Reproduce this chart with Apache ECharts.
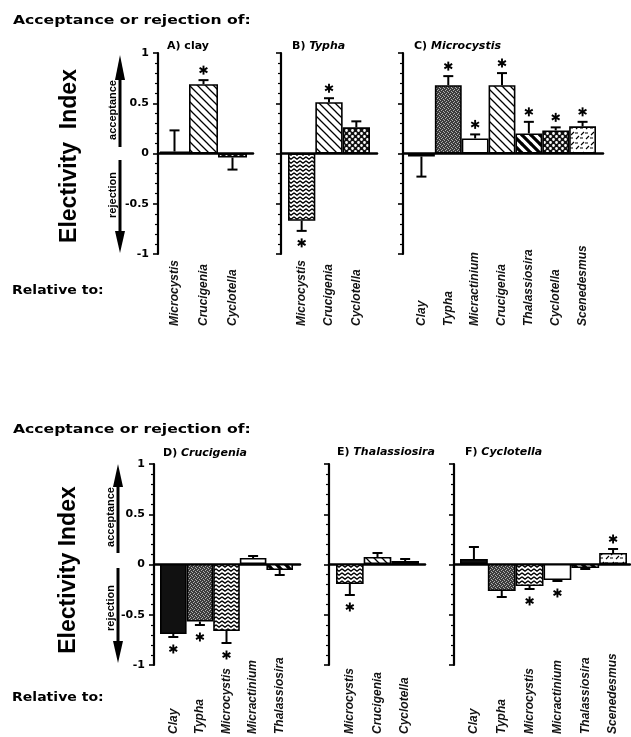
<!DOCTYPE html>
<html><head><meta charset="utf-8">
<script src="https://cdn.jsdelivr.net/npm/echarts@6/dist/echarts.min.js"></script>
<style>html,body{margin:0;padding:0;background:#fff}#c{width:631px;height:737px}</style>
</head><body><div id="c"></div>
<script>
// ---------- data ----------
const catsA = ['Microcystis','Crucigenia','Cyclotella'];
const valsA = [0.02, 0.69, -0.04];
const errA  = [0.23, 0.73, -0.16];
const starA = [0, 1, 0];

const catsB = ['Microcystis','Crucigenia','Cyclotella'];
const valsB = [-0.67, 0.51, 0.26];
const errB  = [-0.77, 0.55, 0.32];
const starB = [1, 1, 0];

const catsC = ['Clay','Typha','Micractinium','Crucigenia','Thalassiosira','Cyclotella','Scenedesmus'];
const valsC = [-0.03, 0.68, 0.15, 0.68, 0.20, 0.23, 0.27];
const errC  = [-0.23, 0.77, 0.19, 0.80, 0.315, 0.26, 0.315];
const starC = [0, 1, 1, 1, 1, 1, 1];

const catsD = ['Clay','Typha','Microcystis','Micractinium','Thalassiosira'];
const valsD = [-0.70, -0.575, -0.67, 0.06, -0.06];
const errD  = [-0.73, -0.61, -0.79, 0.08, -0.11];
const starD = [1, 1, 1, 0, 0];

const catsE = ['Microcystis','Crucigenia','Cyclotella'];
const valsE = [-0.20, 0.07, 0.03];
const errE  = [-0.31, 0.11, 0.05];
const starE = [1, 0, 0];

const catsF = ['Clay','Typha','Microcystis','Micractinium','Thalassiosira','Scenedesmus'];
const valsF = [0.05, -0.27, -0.22, -0.16, -0.04, 0.11];
const errF  = [0.17, -0.33, -0.25, -0.17, -0.05, 0.15];
const starF = [0, 0, 1, 1, 0, 1];

const yMin = -1, yMax = 1, yStep = 0.5;

// ---------- styles ----------
function mk(w, h, draw) {
  const c = document.createElement('canvas'); c.width = w; c.height = h;
  const g = c.getContext('2d'); draw(g, w, h);
  return { image: c, repeat: 'repeat' };
}
const PAT = {
  Clay: '#111',
  Typha: mk(4, 4, g => { g.fillStyle = '#3c3c3c'; g.fillRect(0,0,4,4); g.fillStyle = '#b0b0b0';
    [[0,0],[2,1],[1,2],[3,3]].forEach(p => g.fillRect(p[0], p[1], 1, 1)); }),
  Microcystis: mk(6, 4, g => { g.fillStyle = '#fff'; g.fillRect(0,0,6,4); g.strokeStyle = '#000'; g.lineWidth = 1.3;
    g.beginPath(); g.moveTo(0,0.8); g.lineTo(3,3.2); g.lineTo(6,0.8); g.stroke(); }),
  Crucigenia: mk(8, 8, g => { g.fillStyle = '#fff'; g.fillRect(0,0,8,8); g.strokeStyle = '#000'; g.lineWidth = 1.3;
    g.beginPath(); g.moveTo(-1,-1); g.lineTo(9,9); g.moveTo(-1,7); g.lineTo(1,9); g.moveTo(7,-1); g.lineTo(9,1); g.stroke(); }),
  Cyclotella: mk(6, 6, g => { g.fillStyle = '#111'; g.fillRect(0,0,6,6); g.fillStyle = '#fff';
    g.beginPath(); g.arc(1.5,1.5,1.4,0,Math.PI*2); g.arc(4.5,4.5,1.4,0,Math.PI*2); g.fill(); }),
  Micractinium: '#fff',
  Thalassiosira: mk(9, 9, g => { g.fillStyle = '#fff'; g.fillRect(0,0,9,9); g.strokeStyle = '#000'; g.lineWidth = 3.2;
    g.beginPath(); g.moveTo(-1,-1); g.lineTo(10,10); g.moveTo(-1,8); g.lineTo(1,10); g.moveTo(8,-1); g.lineTo(10,1); g.stroke(); }),
  Scenedesmus: mk(10, 10, g => { g.fillStyle = '#fff'; g.fillRect(0,0,10,10); g.strokeStyle = '#000'; g.lineWidth = 1.1;
    g.beginPath(); g.moveTo(1,5); g.lineTo(4,2); g.moveTo(6,9); g.lineTo(9,6); g.moveTo(5,3); g.lineTo(8,3); g.moveTo(0,8); g.lineTo(3,8); g.stroke(); })
};

// panel layout: frame (axis line .. zero-line end), bars region, row
const panels = [
  { cats: catsA, vals: valsA, err: errA, star: starA, fL: 158, fR: 253, bL: 160, bR: 247, top: 53, labels: true, lm: 72 },
  { cats: catsB, vals: valsB, err: errB, star: starB, fL: 281, fR: 377, bL: 288, bR: 370, top: 53, labels: false, lm: 72 },
  { cats: catsC, vals: valsC, err: errC, star: starC, fL: 403, fR: 603, bL: 408, bR: 596, top: 53, labels: false, lm: 72 },
  { cats: catsD, vals: valsD, err: errD, star: starD, fL: 154, fR: 300, bL: 160, bR: 293, top: 464, labels: true, lm: 70 },
  { cats: catsE, vals: valsE, err: errE, star: starE, fL: 329, fR: 425, bL: 336, bR: 419, top: 464, labels: false, lm: 70 },
  { cats: catsF, vals: valsF, err: errF, star: starF, fL: 454, fR: 630, bL: 460, bR: 627, top: 464, labels: false, lm: 70 }
];
const H = 201;

const grid = [], xAxis = [], yAxis = [], series = [];
panels.forEach((p, k) => {
  const gf = 2 * k, gb = 2 * k + 1;
  grid.push({ left: p.fL, top: p.top, width: p.fR - p.fL, height: H, containLabel: false });
  grid.push({ left: p.bL, top: p.top, width: p.bR - p.bL, height: H, containLabel: false });
  // frame axes
  xAxis.push({ gridIndex: gf, type: 'value', min: 0, max: 1, axisLine: { show: true, onZero: true, lineStyle: { color: '#000', width: 2.5 } },
    axisTick: { show: false }, axisLabel: { show: false }, splitLine: { show: false } });
  yAxis.push({ gridIndex: gf, type: 'value', min: yMin, max: yMax, interval: yStep,
    axisLine: { show: true, onZero: false, lineStyle: { color: '#000', width: 2.2 } },
    axisTick: { show: true, length: 5, lineStyle: { color: '#000', width: 1.6 } },
    minorTick: { show: true, splitNumber: 5, length: 3, lineStyle: { color: '#000', width: 1.2 } },
    splitLine: { show: false }, minorSplitLine: { show: false },
    axisLabel: { show: p.labels, margin: 9, color: '#000', fontFamily: 'DejaVu Sans', fontWeight: 'bold', fontSize: 11 } });
  // bar axes
  xAxis.push({ gridIndex: gb, type: 'category', data: p.cats, axisLine: { show: false }, axisTick: { show: false },
    axisLabel: { show: true, interval: 0, rotate: 90, align: 'left', verticalAlign: 'middle', margin: p.lm,
      fontFamily: 'Liberation Sans', fontStyle: 'italic', fontWeight: 'bold', fontSize: 12, color: '#111' } });
  yAxis.push({ gridIndex: gb, type: 'value', min: yMin, max: yMax, show: false });
  series.push({ type: 'bar', xAxisIndex: gb, yAxisIndex: gb, barCategoryGap: '0%', z: 3,
    data: p.vals.map((v, i) => ({ value: v, itemStyle: { color: PAT[p.cats[i]], borderColor: '#000', borderWidth: 1.6 } })) });
  series.push({ type: 'custom', xAxisIndex: gb, yAxisIndex: gb, z: 4, encode: { x: 0, y: 1 },
    data: p.vals.map((v, i) => [i, v, p.err[i], p.star[i]]),
    renderItem: (params, api) => {
      const i = api.value(0), v = api.value(1), e = api.value(2), s = api.value(3);
      const p0 = api.coord([i, v]), p1 = api.coord([i, e]);
      const x = p0[0];
      const st = { stroke: '#000', lineWidth: 2 };
      const ch = [
        { type: 'line', shape: { x1: x, y1: p0[1], x2: x, y2: p1[1] }, style: st },
        { type: 'line', shape: { x1: x - 5, y1: p1[1], x2: x + 5, y2: p1[1] }, style: st }
      ];
      if (s) {
        const cy = e >= 0 ? p1[1] - 10 : p1[1] + 12;
        const ss = { stroke: '#000', lineWidth: 1.9 };
        ch.push({ type: 'line', shape: { x1: x, y1: cy - 4.5, x2: x, y2: cy + 4.5 }, style: ss });
        ch.push({ type: 'line', shape: { x1: x - 3.9, y1: cy - 2.2, x2: x + 3.9, y2: cy + 2.2 }, style: ss });
        ch.push({ type: 'line', shape: { x1: x - 3.9, y1: cy + 2.2, x2: x + 3.9, y2: cy - 2.2 }, style: ss });
      }
      return { type: 'group', children: ch };
    } });
});

// ---------- annotations ----------
const HF = '"DejaVu Sans"';
function htext(x, y, text, size, sx) {
  return { type: 'text', x: x, y: y, scaleX: sx || 1, style: { text: text, font: 'bold ' + size + 'px ' + HF, fill: '#000', align: 'left', verticalAlign: 'middle' } };
}
function title(x, y, lead, sp) {
  return { type: 'text', x: x, y: y, style: { text: '{n|' + lead + '}' + (sp ? '{i|' + sp + '}' : ''), fill: '#000', align: 'left', verticalAlign: 'middle',
    rich: { n: { font: 'bold 11px ' + HF, fill: '#000' }, i: { font: 'italic bold 11px ' + HF, fill: '#000' } } } };
}
function vtext(x, y, text, font) {
  return { type: 'text', x: x, y: y, rotation: Math.PI / 2, style: { text: text, font: font, fill: '#000', align: 'center', verticalAlign: 'middle' } };
}
function arrows(x, upTip, upBase, upEnd, dnStart, dnBase, dnTip) {
  const ls = { stroke: '#000', lineWidth: 3 };
  return [
    { type: 'line', shape: { x1: x, y1: upBase - 2, x2: x, y2: upEnd }, style: ls },
    { type: 'polygon', shape: { points: [[x, upTip], [x - 5, upBase], [x + 5, upBase]] }, style: { fill: '#000' } },
    { type: 'line', shape: { x1: x, y1: dnStart, x2: x, y2: dnBase + 2 }, style: ls },
    { type: 'polygon', shape: { points: [[x, dnTip], [x - 5, dnBase], [x + 5, dnBase]] }, style: { fill: '#000' } }
  ];
}
const graphic = [
  htext(13, 21, 'Acceptance or rejection of:', 13, 1.2),
  htext(12, 291, 'Relative to:', 13, 1.08),
  htext(13, 430, 'Acceptance or rejection of:', 13, 1.2),
  htext(12, 698, 'Relative to:', 13, 1.08),
  title(167, 46, 'A) clay', ''),
  title(292, 46, 'B) ', 'Typha'),
  title(414, 46, 'C) ', 'Microcystis'),
  title(163, 453, 'D) ', 'Crucigenia'),
  title(337, 452, 'E) ', 'Thalassiosira'),
  title(465, 452, 'F) ', 'Cyclotella'),
  vtext(70, 156, 'Electivity  Index', 'bold 23px "Liberation Sans"'),
  vtext(69, 570, 'Electivity Index', 'bold 23px "Liberation Sans"'),
  vtext(113, 110, 'acceptance', 'bold 11px "Liberation Sans"'),
  vtext(113, 195, 'rejection', 'bold 11px "Liberation Sans"'),
  vtext(111, 517, 'acceptance', 'bold 11px "Liberation Sans"'),
  vtext(111, 608, 'rejection', 'bold 11px "Liberation Sans"')
].concat(arrows(120, 55, 80, 147, 160, 231, 253), arrows(118, 464, 487, 553, 568, 641, 663));

const chart = echarts.init(document.getElementById('c'), null, { renderer: 'canvas' });
chart.setOption({ animation: false, backgroundColor: '#fff', grid, xAxis, yAxis, series, graphic });
</script>
</body></html>
